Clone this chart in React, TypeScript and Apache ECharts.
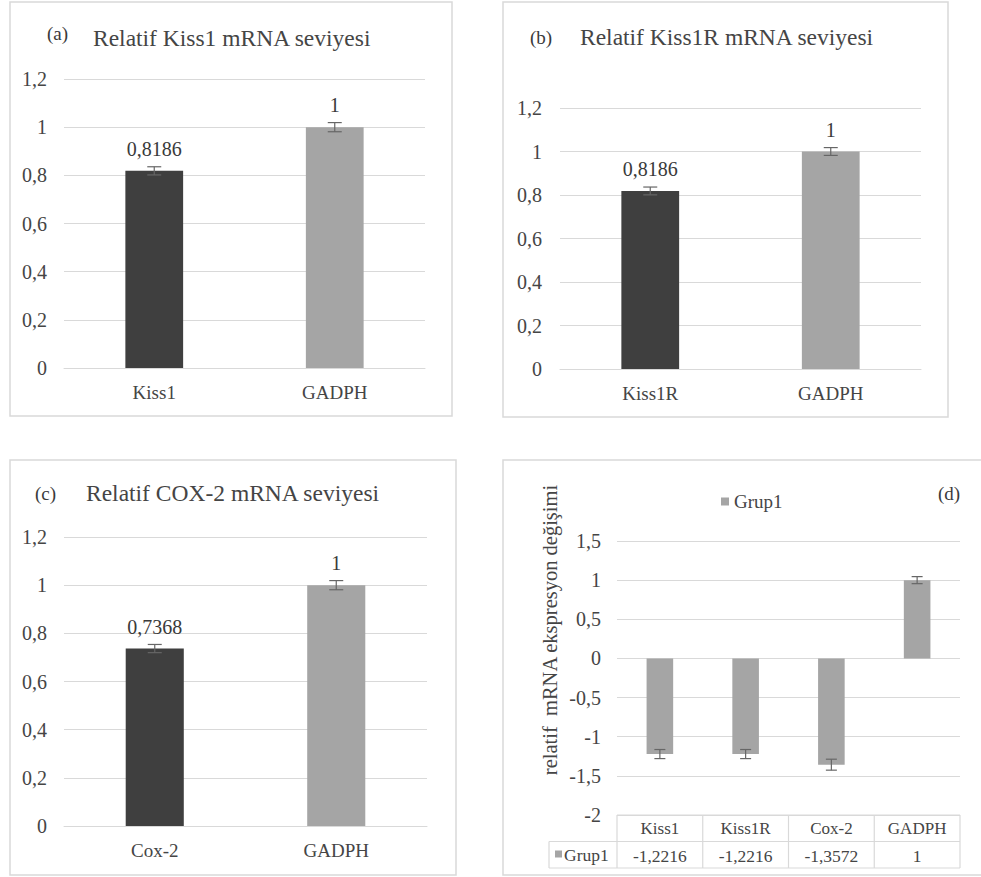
import React, { useEffect, useRef } from "react";
import * as echarts from "echarts";

// ---- data ----
const catsA = ["Kiss1", "GADPH"];
const valsA = [0.8186, 1];
const errA = [0.017, 0.019];

const catsB = ["Kiss1R", "GADPH"];
const valsB = [0.8186, 1];
const errB = [0.018, 0.018];

const catsC = ["Cox-2", "GADPH"];
const valsC = [0.7368, 1];
const errC = [0.017, 0.019];

const catsD = ["Kiss1", "Kiss1R", "Cox-2", "GADPH"];
const valsD = [-1.2216, -1.2216, -1.3572, 1];
const errD = [0.058, 0.058, 0.07, 0.045];
const seriesNameD = "Grup1";

const titles = [
  "Relatif Kiss1 mRNA seviyesi",
  "Relatif Kiss1R mRNA seviyesi",
  "Relatif COX-2 mRNA seviyesi",
];
const panelTags = ["(a)", "(b)", "(c)", "(d)"];
const yTitleD = "relatif  mRNA ekspresyon değişimi";

const DARK = "#3f3f3f";
const LIGHT = "#a5a5a5";
const GRID = "#d9d9d9";
const TXT = "#454545";
const FONT = "'Liberation Serif', 'Times New Roman', serif";

const comma = (v: number | string) => String(v).replace(".", ",");

// layout
const grids = [
  { left: 64, top: 79, width: 361, height: 289 },
  { left: 560, top: 108, width: 361, height: 261 },
  { left: 64, top: 537, width: 363, height: 289 },
  { left: 617, top: 541, width: 343, height: 274 },
];

function errSeries(idx: number, vals: number[], errs: number[], cap: number) {
  return {
    type: "custom",
    xAxisIndex: idx,
    yAxisIndex: idx,
    z: 5,
    silent: true,
    data: vals.map((v, i) => [i, v, errs[i]]),
    renderItem: (params: any, api: any) => {
      const x = api.value(0);
      const y = api.value(1);
      const e = api.value(2);
      const top = api.coord([x, y + e]);
      const bot = api.coord([x, y - e]);
      const style = { stroke: "#666666", lineWidth: 1.2 };
      return {
        type: "group",
        children: [
          { type: "line", shape: { x1: top[0], y1: top[1], x2: bot[0], y2: bot[1] }, style },
          { type: "line", shape: { x1: top[0] - cap / 2, y1: top[1], x2: top[0] + cap / 2, y2: top[1] }, style },
          { type: "line", shape: { x1: bot[0] - cap / 2, y1: bot[1], x2: bot[0] + cap / 2, y2: bot[1] }, style },
        ],
      };
    },
  };
}

function barSeries(idx: number, vals: number[]) {
  return {
    type: "bar",
    name: "p" + idx,
    xAxisIndex: idx,
    yAxisIndex: idx,
    barWidth: "32%",
    data: vals.map((v, i) => ({ value: v, itemStyle: { color: i === 0 ? DARK : LIGHT } })),
    label: {
      show: true,
      position: "top",
      distance: 12,
      formatter: (p: any) => comma(p.value),
      fontSize: 20,
      color: "#3a3a3a",
      fontFamily: FONT,
    },
  };
}

function catAxis(gridIndex: number, data: string[]) {
  return {
    type: "category",
    gridIndex,
    data,
    axisLine: { show: true, lineStyle: { color: GRID } },
    axisTick: { show: false },
    axisLabel: { fontSize: 19, color: TXT, margin: 15, fontFamily: FONT },
  };
}

function valAxis(gridIndex: number, min: number, max: number, interval: number, margin: number) {
  return {
    type: "value",
    gridIndex,
    min,
    max,
    interval,
    axisLine: { show: false },
    axisTick: { show: false },
    splitLine: { lineStyle: { color: GRID, width: 1.2 } },
    axisLabel: { fontSize: 20, color: TXT, margin, fontFamily: FONT, formatter: (v: number) => comma(v) },
  };
}

export default function App() {
  const ref = useRef<HTMLDivElement>(null);
  useEffect(() => {
    if (!ref.current) return;
    const chart = echarts.init(ref.current, null, { renderer: "svg" });

    const g = grids[3];
    const colW = g.width / catsD.length;
    const tTop = g.top + g.height; // 815
    const rowH = 26.5;
    const tLeft = 549;
    const tRight = g.left + g.width;
    const lineStyle = { stroke: GRID, lineWidth: 1.2 };
    const tableLines: any[] = [
      { type: "line", shape: { x1: g.left, y1: tTop, x2: tRight, y2: tTop }, style: lineStyle },
      { type: "line", shape: { x1: tLeft, y1: tTop + rowH, x2: tRight, y2: tTop + rowH }, style: lineStyle },
      { type: "line", shape: { x1: tLeft, y1: tTop + 2 * rowH, x2: tRight, y2: tTop + 2 * rowH }, style: lineStyle },
      { type: "line", shape: { x1: tLeft, y1: tTop + rowH, x2: tLeft, y2: tTop + 2 * rowH }, style: lineStyle },
    ];
    for (let i = 0; i <= catsD.length; i++) {
      const x = g.left + i * colW;
      tableLines.push({ type: "line", shape: { x1: x, y1: tTop, x2: x, y2: tTop + 2 * rowH }, style: lineStyle });
    }

    const border = { fill: "none", stroke: "#d9d9d9", lineWidth: 1.5 };
    const titleStyle = { fontSize: 23.5, fill: TXT, fontFamily: FONT };
    const tagStyle = { fontSize: 19, fill: "#3a3a3a", fontFamily: FONT };

    const option: any = {
      animation: false,
      backgroundColor: "#ffffff",
      textStyle: { fontFamily: FONT },
      grid: grids.map((gr) => ({ ...gr, containLabel: false })),
      legend: {
        data: [seriesNameD],
        left: 716,
        top: 487,
        icon: "rect",
        itemWidth: 8,
        itemHeight: 8,
        textStyle: { fontSize: 19, color: TXT, fontFamily: FONT },
        selectedMode: false,
      },
      xAxis: [
        catAxis(0, catsA),
        catAxis(1, catsB),
        catAxis(2, catsC),
        {
          type: "category",
          gridIndex: 3,
          data: catsD,
          position: "bottom",
          axisLine: { show: false, onZero: false },
          axisTick: { show: false },
          axisLabel: { fontSize: 17, color: TXT, margin: 5, fontFamily: FONT },
        },
        {
          type: "category",
          gridIndex: 3,
          data: valsD.map((v) => comma(v)),
          position: "bottom",
          offset: 26.5,
          axisLine: { show: false, onZero: false },
          axisTick: { show: false },
          axisLabel: { fontSize: 17.5, color: TXT, margin: 5, fontFamily: FONT },
        },
      ],
      yAxis: [
        valAxis(0, 0, 1.2, 0.2, 17),
        valAxis(1, 0, 1.2, 0.2, 18),
        valAxis(2, 0, 1.2, 0.2, 17),
        valAxis(3, -2, 1.5, 0.5, 16),
      ],
      series: [
        barSeries(0, valsA),
        errSeries(0, valsA, errA, 14),
        barSeries(1, valsB),
        errSeries(1, valsB, errB, 14),
        barSeries(2, valsC),
        errSeries(2, valsC, errC, 14),
        {
          type: "bar",
          name: seriesNameD,
          xAxisIndex: 3,
          yAxisIndex: 3,
          barWidth: "31%",
          itemStyle: { color: LIGHT },
          data: valsD,
        },
        errSeries(3, valsD, errD, 11),
      ],
      graphic: [
        { type: "rect", shape: { x: 10, y: 2, width: 442, height: 414 }, style: border, silent: true },
        { type: "rect", shape: { x: 503, y: 2, width: 445, height: 415 }, style: border, silent: true },
        { type: "rect", shape: { x: 10, y: 460, width: 446, height: 415 }, style: border, silent: true },
        { type: "rect", shape: { x: 503, y: 460, width: 520, height: 415 }, style: border, silent: true },
        { type: "text", x: 47, y: 33, style: { ...tagStyle, text: panelTags[0], verticalAlign: "middle" } },
        { type: "text", x: 93, y: 38, style: { ...titleStyle, text: titles[0], verticalAlign: "middle" } },
        { type: "text", x: 530, y: 37, style: { ...tagStyle, text: panelTags[1], verticalAlign: "middle" } },
        { type: "text", x: 580, y: 37, style: { ...titleStyle, text: titles[1], verticalAlign: "middle" } },
        { type: "text", x: 35, y: 493, style: { ...tagStyle, text: panelTags[2], verticalAlign: "middle" } },
        { type: "text", x: 86, y: 493, style: { ...titleStyle, text: titles[2], verticalAlign: "middle" } },
        { type: "text", x: 938, y: 493, style: { ...tagStyle, text: panelTags[3], verticalAlign: "middle" } },
        {
          type: "text",
          x: 550,
          y: 630,
          rotation: Math.PI / 2,
          style: { fontSize: 20.5, fill: TXT, fontFamily: FONT, text: yTitleD, align: "center", verticalAlign: "middle" },
        },
        ...tableLines,
        { type: "rect", shape: { x: 555, y: tTop + rowH + 9, width: 7, height: 7 }, style: { fill: LIGHT } },
        {
          type: "text",
          x: 564,
          y: tTop + rowH * 1.5,
          style: { fontSize: 17.5, fill: TXT, fontFamily: FONT, text: seriesNameD, verticalAlign: "middle" },
        },
      ],
    };
    chart.setOption(option);
    return () => chart.dispose();
  }, []);
  return (
    <div
      ref={ref}
      style={{ position: "fixed", left: 0, top: 0, width: 981, height: 877, background: "#fff" }}
    />
  );
}
